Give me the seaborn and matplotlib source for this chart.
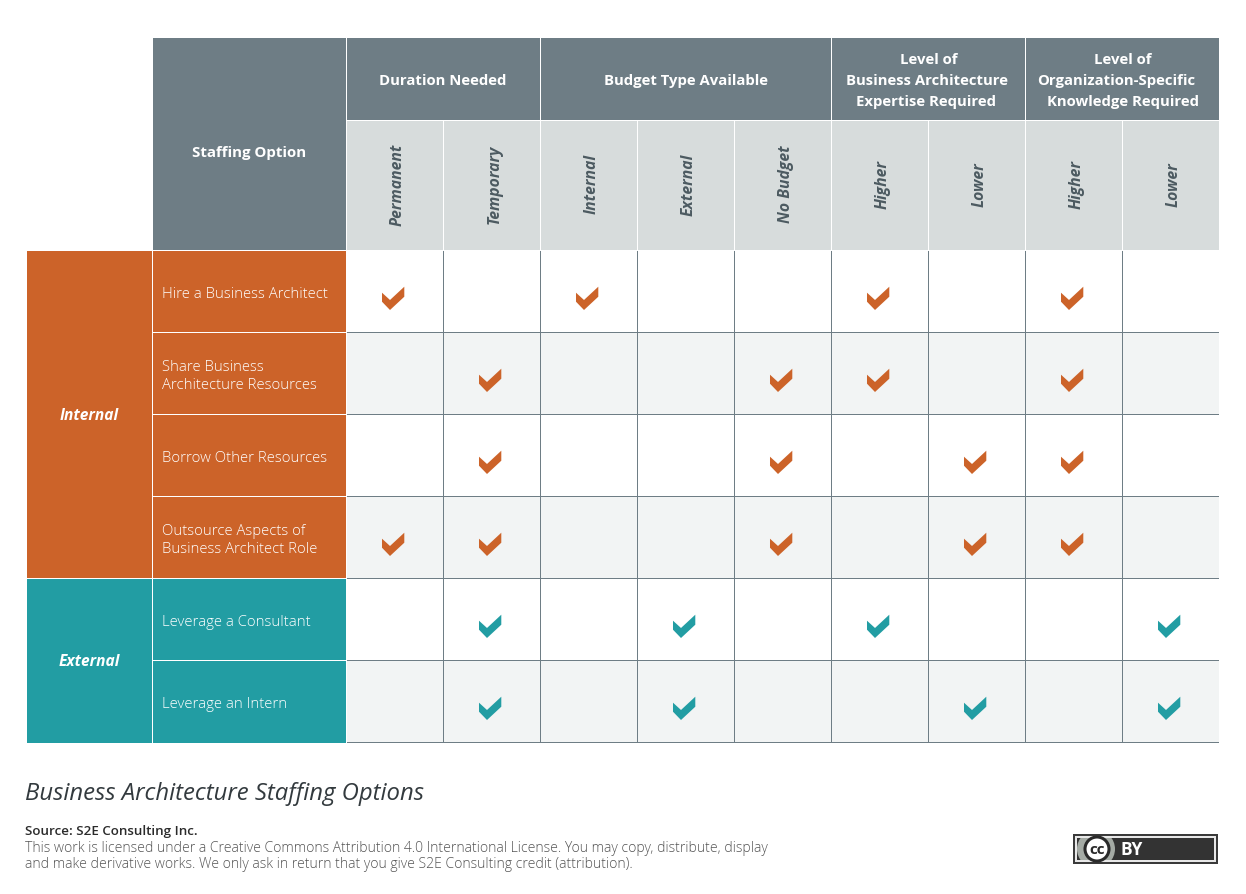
import matplotlib
matplotlib.use("Agg")
import matplotlib.pyplot as plt
import numpy as np
import pandas as pd
import seaborn as sns
from matplotlib.colors import ListedColormap
from matplotlib.path import Path
from matplotlib.patches import Rectangle, Circle

W, H = 1246, 894

groups = ["Internal", "External"]
group_sizes = [4, 2]
options = [
    "Hire a Business Architect",
    "Share Business\nArchitecture Resources",
    "Borrow Other Resources",
    "Outsource Aspects of\nBusiness Architect Role",
    "Leverage a Consultant",
    "Leverage an Intern",
]
option_group = ["Internal", "Internal", "Internal", "Internal", "External", "External"]
headers = [
    "Duration Needed",
    "Budget Type Available",
    "Level of\nBusiness Architecture\nExpertise Required",
    "Level of\nOrganization-Specific\nKnowledge Required",
]
header_spans = [2, 3, 2, 2]
columns = ["Permanent", "Temporary", "Internal", "External", "No Budget",
           "Higher", "Lower", "Higher", "Lower"]
checks = [
    [1, 0, 1, 0, 0, 1, 0, 1, 0],
    [0, 1, 0, 0, 1, 1, 0, 1, 0],
    [0, 1, 0, 0, 1, 0, 1, 1, 0],
    [1, 1, 0, 0, 1, 0, 1, 1, 0],
    [0, 1, 0, 1, 0, 1, 0, 0, 1],
    [0, 1, 0, 1, 0, 0, 1, 0, 1],
]

SLATE = "#6e7d85"
PALE = "#d7dcdc"
STRIPE = "#f2f4f4"
ORANGE = "#cc6329"
TEAL = "#229da3"
LABEL = "#4c5a61"
palette = {"Internal": ORANGE, "External": TEAL}

plt.rcParams["font.family"] = ["Open Sans", "DejaVu Sans"]

fig = plt.figure(figsize=(W / 100, H / 100), dpi=100, facecolor="white")

# overlay in pixel coordinates for the table furniture
bg = fig.add_axes([0, 0, 1, 1])
bg.set_xlim(0, W)
bg.set_ylim(H, 0)
bg.axis("off")


def box(x0, y0, x1, y1, color, **kw):
    bg.add_patch(Rectangle((x0, y0), x1 - x0, y1 - y0, facecolor=color, edgecolor="none", **kw))


col_w = 97
left = 347
top_body = 251
row_h = 82

# the multi-line headers are not quite centred in the original
line_nudge = {"Level of": 1, "Business Architecture": -0.5, "Expertise Required": -2.5,
              "Organization-Specific": -5.5, "Knowledge Required": 1}

# header
box(153, 38, 346, 250, SLATE)
bg.text(249.5, 153.5, "Staffing Option", color="white", fontsize=10.8, fontweight="bold", ha="center", va="center")
x = left
for name, span in zip(headers, header_spans):
    box(x, 38, x + span * col_w - 1, 120, SLATE)
    mid = x + span * col_w / 2 - 1
    if "\n" in name:
        for k, line in enumerate(name.split("\n")):
            bg.text(mid + line_nudge[line], 64 + 21 * k, line, color="white", fontsize=10.75, fontweight="bold",
                    ha="center", va="baseline")
    else:
        bg.text(mid, 85, name, color="white", fontsize=10.75, fontweight="bold", ha="center", va="baseline")
    x += span * col_w
for i, name in enumerate(columns):
    x = left + i * col_w
    box(x, 121, x + col_w - 1, 250, PALE)
    bg.text(x + col_w / 2 + 2, 184.5, name, color=LABEL, fontsize=11.3, fontweight="bold", style="italic",
            rotation=90, ha="center", va="center")

# left panels
y = top_body
for name, n in zip(groups, group_sizes):
    box(27, y, 152, y + n * row_h - (0 if name == groups[-1] else 1), palette[name])
    bg.text(89, y + n * row_h / 2 + 1, name, color="white", fontsize=11.2, fontweight="bold", style="italic",
            ha="center", va="center")
    y += n * row_h
for i, (name, g) in enumerate(zip(options, option_group)):
    y = top_body + i * row_h
    box(153, y, 346, y + row_h - (0 if i == len(options) - 1 else 1), palette[g])
    bg.text(162.5, y + (56 if "\n" in name else 46.5), name, color="white", fontsize=10.72, fontweight="light",
            ha="left", va="baseline", linespacing=1.3)

# body grid
ax = fig.add_axes([(left - 0.5) / W, 1 - (top_body - 0.5 + 6 * row_h) / H, 9 * col_w / W, 6 * row_h / H])
stripes = np.array([[i % 2] * len(columns) for i in range(len(options))])
sns.heatmap(stripes, ax=ax, cmap=ListedColormap(["white", STRIPE]), cbar=False,
            linewidths=0, xticklabels=False, yticklabels=False)
h_lines = ax.hlines(range(1, len(options) + 1), 0, len(columns), colors=SLATE, lw=0.72)
v_lines = ax.vlines(range(1, len(columns) + 1), 0, len(options), colors=SLATE, lw=0.72)
h_lines.set_snap(False)
v_lines.set_snap(False)

long = pd.DataFrame(
    [
        {"col": c + 0.5, "row": r + 0.5, "group": option_group[r]}
        for r, row in enumerate(checks)
        for c, v in enumerate(row)
        if v
    ]
)
# tick glyph, offsets are px from the cell centre (y up)
tick = Path(
    [(-13, -1.2), (-5, -8.5), (9.3, 4.8), (9.3, -5.2), (-5, -18.5), (-13, -10.2), (-13, -1.2)],
    closed=True,
)
sns.scatterplot(data=long, x="col", y="row", hue="group", palette=palette, marker=tick, s=710,
                linewidth=0, legend=False, ax=ax, clip_on=False)
ax.set_xlim(0, 9)
ax.set_ylim(6, 0)
ax.set_xlabel("")
ax.set_ylabel("")

# footer
bg.text(25, 793.5, "Business Architecture Staffing Options", color="#333a3e", fontsize=17.2, style="italic",
        ha="left", va="center")
bg.text(25, 831, "Source: S2E Consulting Inc.", color="#2b2b2b", fontsize=9.6, fontweight="semibold",
        ha="left", va="center")
bg.text(25, 848, "This work is licensed under a Creative Commons Attribution 4.0 International License. You may copy, distribute, display",
        color="#555555", fontsize=10.07, fontweight="light", ha="left", va="center")
bg.text(25, 865, "and make derivative works. We only ask in return that you give S2E Consulting credit (attribution).",
        color="#555555", fontsize=10.07, fontweight="light", ha="left", va="center")

# cc by badge
box(1073, 834, 1218, 864, "#3a3a3a")
box(1075, 836, 1216, 862, "#e8e8e8")
box(1077, 838, 1214, 860, "#333333")
badge = Circle((1096, 849), 19, facecolor="#a5aba5", edgecolor="none")
bg.add_patch(badge)
badge.set_clip_path(Rectangle((1077, 838), 137, 22, transform=bg.transData))
bg.add_patch(Circle((1097, 849), 12, facecolor="white", edgecolor="#2a2a2a", lw=2.2))
bg.text(1097, 849.5, "cc", color="#2a2a2a", fontsize=11, fontweight="bold", ha="center", va="center")
bg.text(1120.5, 850, "BY", color="white", fontsize=12.5, fontweight="bold", ha="left", va="center")

fig.savefig("out.png", dpi=100)
